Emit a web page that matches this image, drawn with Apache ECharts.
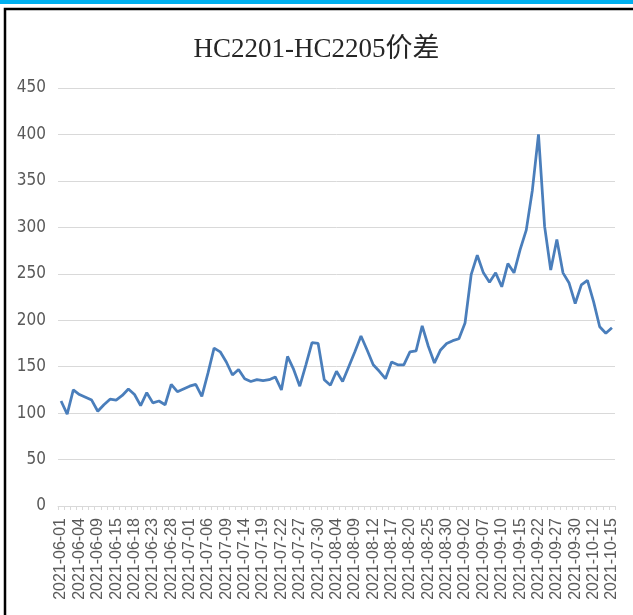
<!DOCTYPE html>
<html>
<head>
<meta charset="utf-8">
<script src="https://cdn.jsdelivr.net/npm/echarts@6/dist/echarts.min.js"></script>
<style>
html,body{margin:0;padding:0;background:#fff;}
#chart{width:633px;height:615px;}
</style>
</head>
<body>
<div id="chart"></div>
<script>
var titleText = 'HC2201-HC2205价差';
var dates = [
'2021-06-01','2021-06-02','2021-06-03','2021-06-04','2021-06-07','2021-06-08','2021-06-09','2021-06-10','2021-06-11','2021-06-15',
'2021-06-16','2021-06-17','2021-06-18','2021-06-21','2021-06-22','2021-06-23','2021-06-24','2021-06-25','2021-06-28','2021-06-29',
'2021-06-30','2021-07-01','2021-07-02','2021-07-05','2021-07-06','2021-07-07','2021-07-08','2021-07-09','2021-07-12','2021-07-13',
'2021-07-14','2021-07-15','2021-07-16','2021-07-19','2021-07-20','2021-07-21','2021-07-22','2021-07-23','2021-07-26','2021-07-27',
'2021-07-28','2021-07-29','2021-07-30','2021-08-02','2021-08-03','2021-08-04','2021-08-05','2021-08-06','2021-08-09','2021-08-10',
'2021-08-11','2021-08-12','2021-08-13','2021-08-16','2021-08-17','2021-08-18','2021-08-19','2021-08-20','2021-08-23','2021-08-24',
'2021-08-25','2021-08-26','2021-08-27','2021-08-30','2021-08-31','2021-09-01','2021-09-02','2021-09-03','2021-09-06','2021-09-07',
'2021-09-08','2021-09-09','2021-09-10','2021-09-13','2021-09-14','2021-09-15','2021-09-16','2021-09-17','2021-09-22','2021-09-23',
'2021-09-24','2021-09-27','2021-09-28','2021-09-29','2021-09-30','2021-10-08','2021-10-11','2021-10-12','2021-10-13','2021-10-14',
'2021-10-15'
];
var spread = [
113,99,125,120,117,114,102,109,115,114,
119,126,120,108,122,111,113,109,131,123,
126,129,131,118,143,170,166,155,141,147,
137,134,136,135,136,139,125,161,147,129,
152,176,175,136,130,145,134,150,166,183,
168,152,145,137,155,152,152,166,167,194,
172,154,168,175,178,180,197,249,270,251,
241,251,236,261,251,276,297,340,400,301,
254,287,251,240,218,238,243,220,193,186,
192
];
var yTicks = [0,50,100,150,200,250,300,350,400,450];

var chart = echarts.init(document.getElementById('chart'), null, {renderer:'canvas'});
chart.setOption({
  backgroundColor:'#ffffff',
  animation:false,
  title:{
    text:titleText,
    left:'center',
    top:31,
    textStyle:{fontFamily:"'Liberation Serif','Noto Sans CJK SC',serif",fontSize:27,fontWeight:'normal',color:'#262626'}
  },
  graphic:[
    {type:'rect',shape:{x:0,y:0,width:633,height:4},style:{fill:'#00b0f0'},silent:true},
    {type:'polyline',shape:{points:[[5,640],[5,9],[660,9]]},style:{fill:null,stroke:'#000000',lineWidth:2.5},silent:true}
  ],
  grid:{left:58,right:18,top:88,bottom:109,containLabel:false},
  xAxis:{
    type:'category',
    data:dates,
    boundaryGap:true,
    axisLine:{show:true,lineStyle:{color:'#d9d9d9',width:1}},
    axisTick:{show:true,interval:0,length:4,lineStyle:{color:'#d9d9d9'}},
    axisLabel:{interval:2,rotate:90,margin:12,color:'#595959',fontSize:16,fontFamily:"'Liberation Sans',Arial,sans-serif"},
    splitLine:{show:false}
  },
  yAxis:{
    type:'value',
    min:yTicks[0],
    max:yTicks[yTicks.length-1],
    interval:50,
    axisLine:{show:false},
    axisTick:{show:false},
    axisLabel:{margin:12,color:'#595959',fontSize:17,fontFamily:"'Liberation Sans Narrow','DejaVu Sans Condensed',sans-serif"},
    splitLine:{show:true,lineStyle:{color:'#d9d9d9',width:1}}
  },
  series:[{
    type:'line',
    data:spread,
    symbol:'none',
    smooth:false,
    lineStyle:{color:'#4a7ebb',width:2.75},
    itemStyle:{color:'#4a7ebb'}
  }]
});
</script>
</body>
</html>
